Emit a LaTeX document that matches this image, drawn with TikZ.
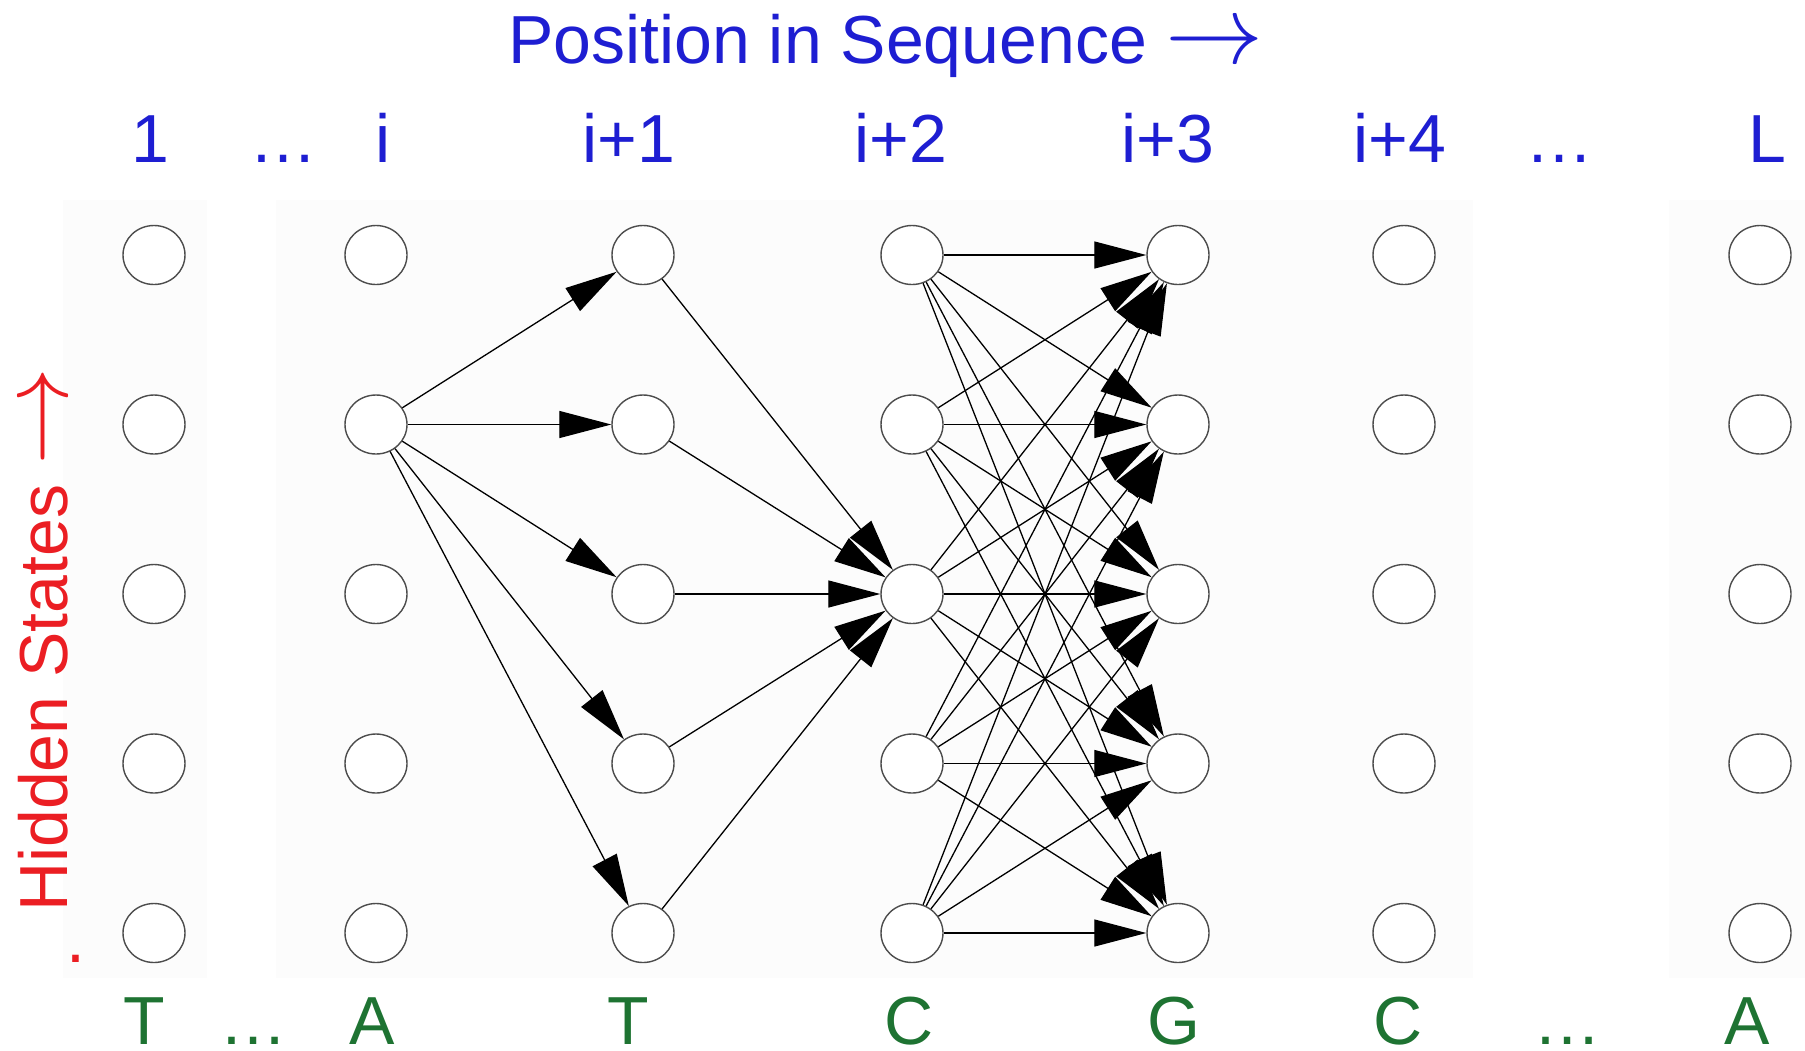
\RequirePackage{fix-cm}
\documentclass[tikz,border=0pt]{standalone}
\usepackage{fontspec}
\setmainfont{Liberation Sans}
\usetikzlibrary{shapes.geometric, arrows.meta}
\definecolor{posblue}{RGB}{30,30,210}
\definecolor{hidred}{RGB}{235,30,35}
\definecolor{basegreen}{RGB}{30,115,50}
\newcommand{\bigarrow}{{\fontsize{98}{98}\selectfont$\rightarrow$}}

\begin{document}
\begin{tikzpicture}[x=1pt, y=-1pt]
        \tikzstyle{state} = [ellipse, minimum width=62pt, minimum height=59pt, inner sep=0pt, draw=black!70, line width=1.4pt, fill=white]
        \tikzstyle{connect} = [-{Triangle[length=52pt, width=27pt]}, line width=1.3pt, draw=black]
        \tikzstyle{lbl} = [font=\fontsize{68}{68}\selectfont, anchor=base, inner sep=0pt, text height=50pt, text depth=0pt]
        \useasboundingbox (0,0) rectangle (1805,1050);
        % faint panels behind the columns
        \fill[black!1] (63,200) rectangle (207,978);
        \fill[black!1] (276,200) rectangle (1473,978);
        \fill[black!1] (1669,200) rectangle (1805,978);
        % hidden states, one column per position
        \foreach \name/\x in {one/154, i/376, ip1/643, ip2/912, ip3/1178, ip4/1404, L/1760}
          \foreach \r/\y in {1/255, 2/424.5, 3/594, 4/763.5, 5/933}
            \node[state] (\name-\r) at (\x,\y) {};
        % transitions
        \foreach \r in {1,...,5} {
          \path (i-2) edge [connect] (ip1-\r);
          \path (ip1-\r) edge [connect] (ip2-3);
          \foreach \s in {1,...,5}
            \path (ip2-\r) edge [connect] (ip3-\s);
        }
        % labels
        \node[lbl, text=posblue, anchor=base west] (title) at (508,63) {Position in Sequence \bigarrow};
        \foreach \t/\x [count=\k] in {1/150, …/283, i/383, i+1/629, i+2/901, i+3/1168, i+4/1400, …/1559, L/1767}
          \node[lbl, text=posblue] (pos-\k) at (\x,162) {\t};
        \foreach \t/\x [count=\k] in {T/144, …/253, A/372, T/628, C/909, G/1174, C/1398, …/1567, A/1747}
          \node[lbl, text=basegreen] (obs-\k) at (\x,1044) {\t};
        \node[lbl, text=hidred, rotate=90, anchor=base west] (hidden) at (67,912) {Hidden States \bigarrow};
        \node[lbl, text=hidred] (dot) at (76,962) {.};
      \end{tikzpicture}
\end{document}
